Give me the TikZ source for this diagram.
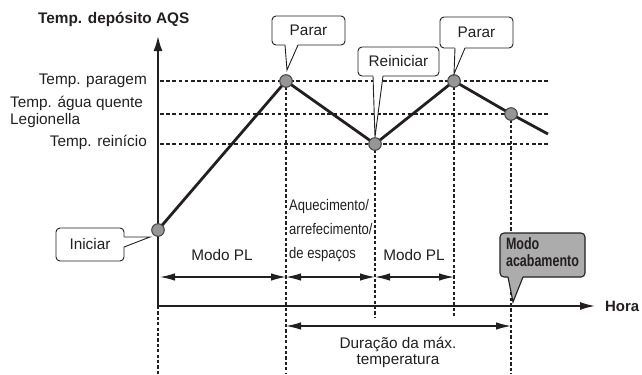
\documentclass[tikz,border=0pt]{standalone}
\usepackage{fontspec}
\setmainfont{Liberation Sans}
\usetikzlibrary{arrows.meta, math}
\definecolor{dotgray}{RGB}{150,150,151}
\definecolor{boxgray}{RGB}{172,172,173}
\definecolor{ink}{RGB}{35,31,32}

\tikzset{
  lvl/.style={dash pattern=on 3.6bp off 2.6bp, line width=1.2bp},
  vdots/.style={dash pattern=on 3.2bp off 2.2bp, line width=1.3bp},
  tpoint/.style={fill=dotgray, draw=ink!85, line width=1bp},
  bubble/.style={draw=ink, rounded corners=4bp, fill=white, line width=0.9bp,
    inner sep=0pt, align=center},
  span/.style={{Latex[length=15bp,width=7.5bp]}-{Latex[length=15bp,width=7.5bp]}, line width=1.2bp},
  lbl/.style={font=\fontsize{15.4}{17}\selectfont, inner sep=0pt}
}

\begin{document}
\begin{tikzpicture}[x=1bp, y=-1bp, color=ink]
\useasboundingbox (0,0) rectangle (642,374);
\tikzmath{
\ox=158; \oy=306; % origin
\yp=81; \yl=114; \yr=144; % temperature levels
\xe=548; \ya=277; \yd=326;
}
\coordinate (O) at (\ox,\oy);
\coordinate (S) at (\ox,230);
\coordinate (P1) at (286,\yp);
\coordinate (R) at (375,\yr);
\coordinate (P2) at (454,\yp);
\coordinate (L) at (511,\yl);
\coordinate (E) at (\xe,134);

% levels
\draw[lvl] (\ox+2,\yp) -- (\xe,\yp);
\draw[lvl] (\ox+2,\yl) -- (\xe,\yl);
\draw[lvl] (\ox+2,\yr) -- (\xe,\yr);

% time marks
\draw[vdots] (O) -- (\ox,374);
\draw[vdots] (P1) -- (P1 |- 0,374);
\draw[vdots] (R) -- (R |- 0,318);
\draw[vdots] (P2) -- (P2 |- 0,318);
\draw[vdots] (L) -- (L |- 0,374);

% axes
\draw[-{Latex[length=15bp,width=9bp]}, line width=1.8bp] (O) -- (\ox,36) coordinate (ytop);
\draw[-{Latex[length=15bp,width=8bp]}, line width=1.5bp] (O) -- (595,\oy) coordinate (xend);
\node[lbl, font=\fontsize{15.4}{17}\selectfont\bfseries, anchor=west] (ytitle) at (38,19) {Temp. depósito AQS};
\node[lbl, font=\fontsize{15}{17}\selectfont\bfseries, anchor=west] (hora) at (605,306) {Hora};

% tank temperature
\draw[line width=2.8bp, line join=round] (S) -- (P1) -- (R) -- (P2) -- (L) -- (E);
\foreach \p in {S,P1,R,P2,L}
  \filldraw[tpoint] (\p) circle (6.3bp);

% level labels
\node[lbl, anchor=east] (tpar) at (147,81) {Temp. paragem};
\node[lbl, anchor=west, align=left] (tleg) at (10,112) {Temp. água quente\\Legionella};
\node[lbl, anchor=east] (trei) at (147,142) {Temp. reinício};

% modes
\draw[span] (\ox+2,\ya) -- (P1 |- 0,\ya);
\draw[span] (P1 |- 0,\ya) -- (R |- 0,\ya);
\draw[span] (R |- 0,\ya) -- (P2 |- 0,\ya);
\draw[span] (P1 |- 0,\yd) -- (L |- 0,\yd);
\node[lbl] (pl1) at (222,255) {Modo PL};
\node[lbl] (pl2) at (414,255) {Modo PL};
\node[lbl, anchor=north west, align=left, xscale=0.85,
  font=\fontsize{15.4}{24}\selectfont] (aq) at (289,199) {Aquecimento/\\arrefecimento/\\de espaços};
\node[lbl, align=center, font=\fontsize{15.4}{16}\selectfont] (dur) at (398,352) {Duração da máx.\\temperatura};

% callouts
\node[bubble, lbl, minimum width=73bp, minimum height=29bp] (par1) at (308.5,30.5) {Parar};
\fill[white] (285,44) -- (287,70) -- (298,44) -- cycle;
\draw[line width=0.9bp] (285,45) -- (287,70) -- (298,45);

\node[bubble, lbl, minimum width=81bp, minimum height=29bp] (rei) at (398.5,61.5) {Reiniciar};
\fill[white] (373,75) -- (375,137) -- (383,75) -- cycle;
\draw[line width=0.9bp] (373,76) -- (375,137) -- (383,76);

\node[bubble, lbl, minimum width=73bp, minimum height=31bp] (par2) at (476.5,32.5) {Parar};
\fill[white] (455,47) -- (454,74) -- (465,47) -- cycle;
\draw[line width=0.9bp] (455,48) -- (454,74) -- (465,48);

\node[bubble, lbl, minimum width=68bp, minimum height=33bp] (ini) at (90,244.5) {Iniciar};
\fill[white] (123,237) -- (150,237) -- (123,247) -- cycle;
\draw[line width=0.9bp] (124,237) -- (150,237) -- (124,247);

\node[bubble, fill=boxgray, minimum width=85bp, minimum height=44bp, line width=1.1bp] (acab) at (542.5,255)
  {\fontsize{16.5}{17}\selectfont\bfseries\scalebox{0.76}[1]{\begin{tabular}{@{}l@{}}Modo\\acabamento\end{tabular}}};
\fill[boxgray] (508,276) -- (513,302) -- (523,276) -- cycle;
\draw[line width=1.1bp] (508,277) -- (513,302) -- (523,277);

\end{tikzpicture}
\end{document}
